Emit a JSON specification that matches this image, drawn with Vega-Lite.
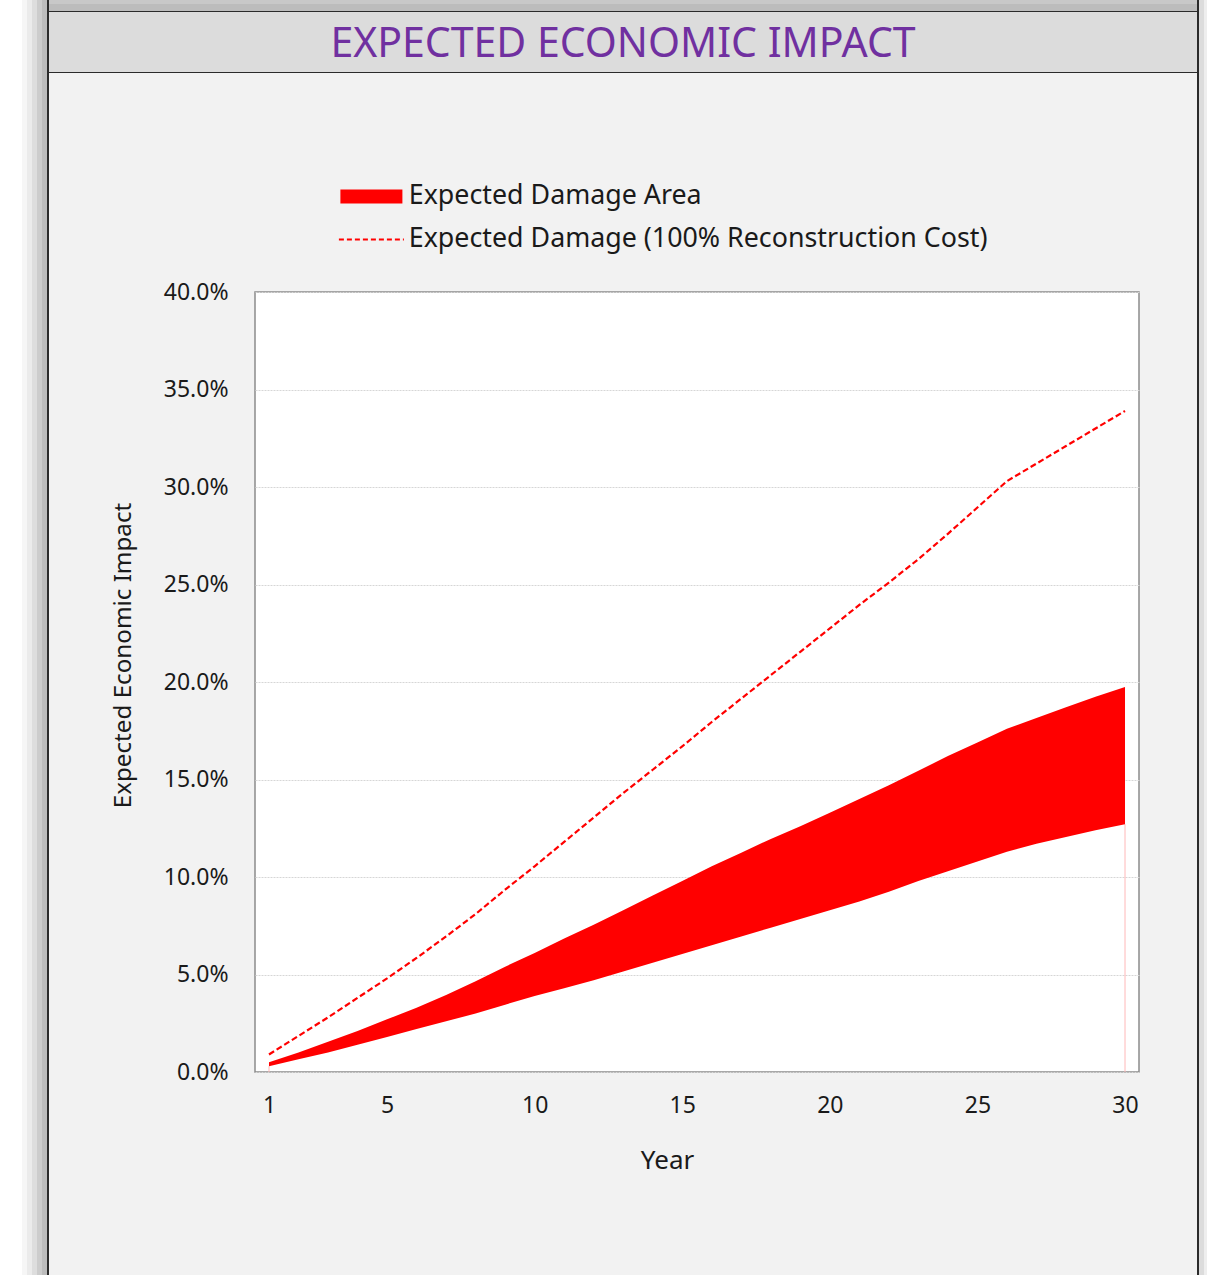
{
  "$schema": "https://vega.github.io/schema/vega-lite/v6.json",
  "background": "#f2f2f2",
  "padding": 0,
  "spacing": 0,
  "config": {
    "view": {"stroke": null},
    "font": "Noto Sans"
  },
  "hconcat": [
    {"width": 22, "height": 1275, "data": {"values": [{}]}, "mark": {"type": "point", "opacity": 0, "size": 0, "strokeWidth": 0}, "view": {"fill": "#ffffff", "stroke": null}},
    {"width": 5, "height": 1275, "data": {"values": [{}]}, "mark": {"type": "point", "opacity": 0, "size": 0, "strokeWidth": 0}, "view": {"fill": "#f6f6f6", "stroke": null}},
    {"width": 5, "height": 1275, "data": {"values": [{}]}, "mark": {"type": "point", "opacity": 0, "size": 0, "strokeWidth": 0}, "view": {"fill": "#ebebeb", "stroke": null}},
    {"width": 5, "height": 1275, "data": {"values": [{}]}, "mark": {"type": "point", "opacity": 0, "size": 0, "strokeWidth": 0}, "view": {"fill": "#dddddd", "stroke": null}},
    {"width": 5, "height": 1275, "data": {"values": [{}]}, "mark": {"type": "point", "opacity": 0, "size": 0, "strokeWidth": 0}, "view": {"fill": "#cccccc", "stroke": null}},
    {"width": 5, "height": 1275, "data": {"values": [{}]}, "mark": {"type": "point", "opacity": 0, "size": 0, "strokeWidth": 0}, "view": {"fill": "#bcbcbc", "stroke": null}},
    {"width": 2, "height": 1275, "data": {"values": [{}]}, "mark": {"type": "point", "opacity": 0, "size": 0, "strokeWidth": 0}, "view": {"fill": "#2b2b2b", "stroke": null}},
    {
      "spacing": 0,
      "vconcat": [
        {"width": 1148, "height": 4, "data": {"values": [{}]}, "mark": {"type": "point", "opacity": 0, "size": 0, "strokeWidth": 0}, "view": {"fill": "#c8c8c8", "stroke": null}},
        {"width": 1148, "height": 7, "data": {"values": [{}]}, "mark": {"type": "point", "opacity": 0, "size": 0, "strokeWidth": 0}, "view": {"fill": "#bcbcbc", "stroke": null}},
        {"width": 1148, "height": 1, "data": {"values": [{}]}, "mark": {"type": "point", "opacity": 0, "size": 0, "strokeWidth": 0}, "view": {"fill": "#2b2b2b", "stroke": null}},
        {
          "width": 1148,
          "height": 60,
          "view": {"fill": "#dcdcdc", "stroke": null},
          "data": {"values": [{"heading": "EXPECTED ECONOMIC IMPACT"}]},
          "mark": {"type": "text", "font": "Noto Sans", "fontSize": 41, "color": "#7030a0", "baseline": "middle", "align": "center", "dy": 3},
          "encoding": {"text": {"field": "heading", "type": "nominal"}}
        },
        {"width": 1148, "height": 1, "data": {"values": [{}]}, "mark": {"type": "point", "opacity": 0, "size": 0, "strokeWidth": 0}, "view": {"fill": "#2b2b2b", "stroke": null}},
        {"width": 1148, "height": 207, "data": {"values": [{}]}, "mark": {"type": "point", "opacity": 0, "size": 0, "strokeWidth": 0}, "view": {"stroke": null}},
        {
          "spacing": 0,
          "hconcat": [
            {"width": 62, "height": 1, "data": {"values": [{}]}, "mark": {"type": "point", "opacity": 0, "size": 0, "strokeWidth": 0}, "view": {"stroke": null}},
            {
              "width": 884,
              "height": 780,
              "view": {"fill": "#ffffff", "stroke": "#8c8c8c", "strokeWidth": 1.5},
              "data": {
                "values": [
                  {"year": 1, "lower": 0.30, "upper": 0.50, "full": 0.90},
                  {"year": 2, "lower": 0.65, "upper": 1.00, "full": 1.85},
                  {"year": 3, "lower": 1.00, "upper": 1.55, "full": 2.80},
                  {"year": 4, "lower": 1.40, "upper": 2.10, "full": 3.80},
                  {"year": 5, "lower": 1.80, "upper": 2.70, "full": 4.80},
                  {"year": 6, "lower": 2.20, "upper": 3.30, "full": 5.85},
                  {"year": 7, "lower": 2.60, "upper": 3.95, "full": 6.95},
                  {"year": 8, "lower": 3.00, "upper": 4.65, "full": 8.10},
                  {"year": 9, "lower": 3.45, "upper": 5.40, "full": 9.35},
                  {"year": 10, "lower": 3.90, "upper": 6.10, "full": 10.55},
                  {"year": 11, "lower": 4.30, "upper": 6.85, "full": 11.80},
                  {"year": 12, "lower": 4.70, "upper": 7.55, "full": 13.05},
                  {"year": 13, "lower": 5.15, "upper": 8.30, "full": 14.30},
                  {"year": 14, "lower": 5.60, "upper": 9.05, "full": 15.50},
                  {"year": 15, "lower": 6.05, "upper": 9.80, "full": 16.70},
                  {"year": 16, "lower": 6.50, "upper": 10.55, "full": 17.95},
                  {"year": 17, "lower": 6.95, "upper": 11.25, "full": 19.15},
                  {"year": 18, "lower": 7.40, "upper": 11.95, "full": 20.35},
                  {"year": 19, "lower": 7.85, "upper": 12.60, "full": 21.55},
                  {"year": 20, "lower": 8.30, "upper": 13.30, "full": 22.75},
                  {"year": 21, "lower": 8.75, "upper": 14.00, "full": 23.95},
                  {"year": 22, "lower": 9.25, "upper": 14.70, "full": 25.10},
                  {"year": 23, "lower": 9.80, "upper": 15.45, "full": 26.30},
                  {"year": 24, "lower": 10.30, "upper": 16.20, "full": 27.60},
                  {"year": 25, "lower": 10.80, "upper": 16.90, "full": 28.95},
                  {"year": 26, "lower": 11.30, "upper": 17.60, "full": 30.30},
                  {"year": 27, "lower": 11.70, "upper": 18.15, "full": 31.20},
                  {"year": 28, "lower": 12.05, "upper": 18.70, "full": 32.10},
                  {"year": 29, "lower": 12.40, "upper": 19.25, "full": 33.00},
                  {"year": 30, "lower": 12.70, "upper": 19.75, "full": 33.90}
                ]
              },
              "encoding": {
                "x": {
                  "field": "year",
                  "type": "quantitative",
                  "scale": {"domain": [0.526, 30.474], "nice": false, "zero": false, "padding": 0},
                  "axis": {
                    "values": [1, 5, 10, 15, 20, 25, 30],
                    "title": "Year",
                    "grid": false,
                    "ticks": false,
                    "domain": false,
                    "labelFontSize": 23,
                    "labelColor": "#1a1a1a",
                    "labelPadding": 22,
                    "titleFontSize": 26,
                    "titleFontWeight": "normal",
                    "titleColor": "#1a1a1a",
                    "titlePadding": 30,
                    "titleX": 412
                  }
                }
              },
              "layer": [
                {
                  "transform": [{"filter": "datum.year === 1 || datum.year === 30"}],
                  "mark": {"type": "bar", "size": 1, "color": "#ffb8b8"},
                  "encoding": {
                    "y": {
                      "field": "lower",
                      "type": "quantitative",
                      "scale": {"domain": [0, 40], "nice": false},
                      "axis": {
                        "values": [0, 5, 10, 15, 20, 25, 30, 35, 40],
                        "labelExpr": "format(datum.value, '.1f') + '%'",
                        "title": "Expected Economic Impact",
                        "grid": true,
                        "gridColor": "#d6d6d6",
                        "gridDash": [2, 1],
                        "gridWidth": 1,
                        "ticks": false,
                        "domain": false,
                        "labelFontSize": 23,
                        "labelColor": "#1a1a1a",
                        "labelPadding": 27,
                        "titleFontSize": 24.2,
                        "titleFontWeight": "normal",
                        "titleColor": "#1a1a1a",
                        "titlePadding": 27.5,
                        "titleY": 363
                      }
                    }
                  }
                },
                {
                  "mark": {"type": "area", "interpolate": "linear"},
                  "encoding": {
                    "y": {"field": "upper", "type": "quantitative"},
                    "y2": {"field": "lower"},
                    "fill": {
                      "datum": "Expected Damage Area",
                      "type": "nominal",
                      "scale": {"range": ["#ff0000"]},
                      "legend": {
                        "orient": "none",
                        "legendX": 358,
                        "legendY": 183,
                        "title": null,
                        "padding": 0,
                        "symbolType": "M-3.1,-0.7H3.1V0.7H-3.1Z",
                        "symbolSize": 400,
                        "symbolFillColor": "#ff0000",
                        "symbolStrokeWidth": 0,
                        "labelOffset": 24,
                        "labelFontSize": 26.8,
                        "labelColor": "#1a1a1a",
                        "labelLimit": 800
                      }
                    }
                  }
                },
                {
                  "mark": {"type": "line", "strokeDash": [6, 3], "strokeWidth": 2.2, "interpolate": "linear"},
                  "encoding": {
                    "y": {"field": "full", "type": "quantitative"},
                    "stroke": {
                      "datum": "Expected Damage (100% Reconstruction Cost)",
                      "type": "nominal",
                      "scale": {"range": ["#ff0000"]},
                      "legend": {
                        "orient": "none",
                        "legendX": 358,
                        "legendY": 226,
                        "title": null,
                        "padding": 0,
                        "symbolType": "M-3.25,0H3.25",
                        "symbolSize": 400,
                        "symbolDash": [5, 3],
                        "symbolStrokeWidth": 2,
                        "symbolStrokeColor": "#ff0000",
                        "labelOffset": 24,
                        "labelFontSize": 26.8,
                        "labelColor": "#1a1a1a",
                        "labelLimit": 800
                      }
                    }
                  }
                }
              ]
            }
          ]
        }
      ]
    },
    {"width": 2, "height": 1275, "data": {"values": [{}]}, "mark": {"type": "point", "opacity": 0, "size": 0, "strokeWidth": 0}, "view": {"fill": "#2b2b2b", "stroke": null}},
    {"width": 5, "height": 1275, "data": {"values": [{}]}, "mark": {"type": "point", "opacity": 0, "size": 0, "strokeWidth": 0}, "view": {"fill": "#dcdcdc", "stroke": null}},
    {"width": 3, "height": 1275, "data": {"values": [{}]}, "mark": {"type": "point", "opacity": 0, "size": 0, "strokeWidth": 0}, "view": {"fill": "#eeeeee", "stroke": null}},
    {"width": 8, "height": 1275, "data": {"values": [{}]}, "mark": {"type": "point", "opacity": 0, "size": 0, "strokeWidth": 0}, "view": {"fill": "#ffffff", "stroke": null}}
  ]
}
